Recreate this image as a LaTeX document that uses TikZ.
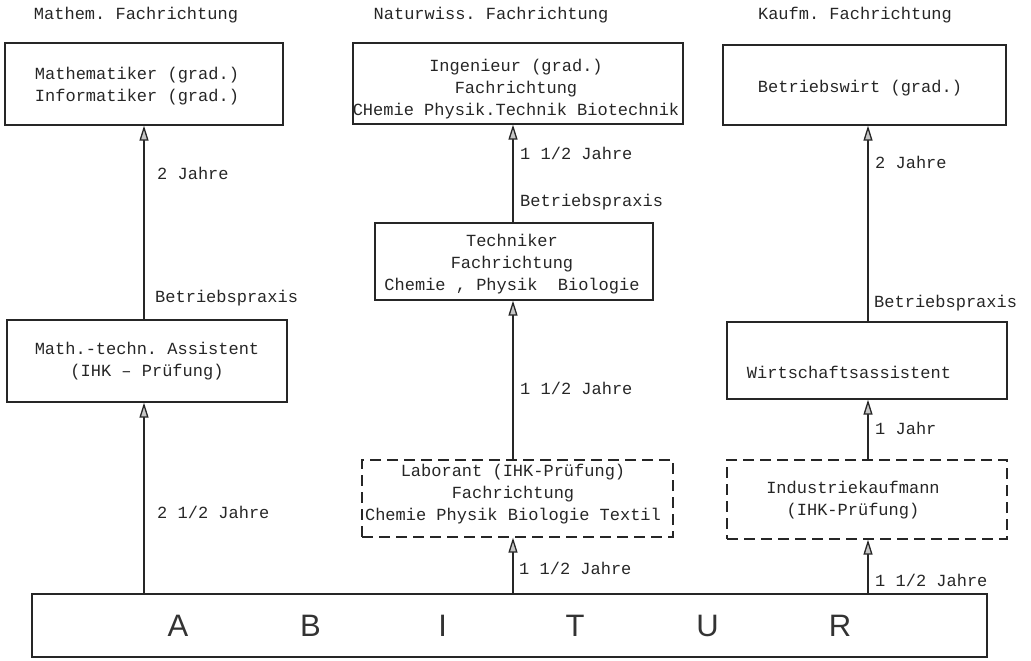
\documentclass[tikz,border=0pt]{standalone}
\usepackage{fontspec}
\setmainfont{Liberation Serif}
\setmonofont{Liberation Mono}
\newfontfamily\abifont{Liberation Sans}
\usetikzlibrary{arrows.meta}
\tikzset{
  box/.style={draw=black!85, line width=1.3pt, rectangle, inner sep=0pt},
  dbox/.style={box, dash pattern=on 11pt off 6pt},
  txt/.style={font=\ttfamily\fontsize{17}{22}\selectfont, text=black!85, inner sep=0pt, align=center},
  lbl/.style={txt, anchor=west},
  abl/.style={font=\abifont\fontsize{31}{31}\selectfont, text=black!80, inner sep=0pt},
  arr/.style={draw=black!85, line width=1.3pt, -{Triangle[width=9pt,length=15pt,fill=gray!45]}}
}
\begin{document}
\begin{tikzpicture}[x=1pt,y=-1pt]
\useasboundingbox (0,0) rectangle (1031,661);
% headers
\node[txt] (hm) at (136,15) {Mathem. Fachrichtung};
\node[txt] (hn) at (491,15) {Naturwiss. Fachrichtung};
\node[txt] (hk) at (855,15) {Kaufm. Fachrichtung};
% boxes
\node[box, minimum width=278pt, minimum height=82pt] (m1) at (144,84) {};
\node[box, minimum width=330pt, minimum height=81pt] (n1) at (518,83.5) {};
\node[box, minimum width=283pt, minimum height=80pt] (k1) at (864.5,85) {};
\node[box, minimum width=280pt, minimum height=82pt] (m2) at (147,361) {};
\node[box, minimum width=278pt, minimum height=77pt] (n2) at (514,261.5) {};
\node[box, minimum width=280pt, minimum height=77pt] (k2) at (867,360.5) {};
\node[dbox, minimum width=311pt, minimum height=77pt] (n3) at (517.5,498.5) {};
\node[dbox, minimum width=280pt, minimum height=79pt] (k3) at (867,499.5) {};
\node[box, minimum width=955pt, minimum height=63pt] (ab) at (509.5,625.5) {};
% box texts
\node[txt] (tm1) at (137,86) {Mathematiker (grad.)\\Informatiker (grad.)};
\node[txt] (tn1) at (516,89) {Ingenieur (grad.)\\Fachrichtung\\CHemie Physik.Technik Biotechnik};
\node[txt] (tk1) at (860,88) {Betriebswirt (grad.)};
\node[txt] (tm2) at (147,361) {Math.-techn. Assistent\\(IHK – Prüfung)};
\node[txt] (tn2) at (512,264) {Techniker\\Fachrichtung\\Chemie , Physik\ \ Biologie};
\node[txt] (tk2) at (849,372) {Wirtschaftsassistent};
\node[txt] (tn3) at (513,494) {Laborant (IHK-Prüfung)\\Fachrichtung\\Chemie Physik Biologie Textil};
\node[txt] (tk3) at (853,500) {Industriekaufmann\\(IHK-Prüfung)};
% ABITUR
\node[abl] (a1) at (178,626) {A};
\node[abl] (a2) at (310.4,626) {B};
\node[abl] (a3) at (442.8,626) {I};
\node[abl] (a4) at (575.2,626) {T};
\node[abl] (a5) at (707.6,626) {U};
\node[abl] (a6) at (840,626) {R};
% connectors
\coordinate (xm) at (144,0);
\coordinate (xn) at (513,0);
\coordinate (xk) at (868,0);
\draw[arr] (ab.north -| xm) -- (m2.south -| xm);
\draw[arr] (m2.north -| xm) -- (m1.south -| xm);
\draw[arr] (ab.north -| xn) -- (n3.south -| xn);
\draw[arr] (n3.north -| xn) -- (n2.south -| xn);
\draw[arr] (n2.north -| xn) -- (n1.south -| xn);
\draw[arr] (ab.north -| xk) -- (k3.south -| xk);
\draw[arr] (k3.north -| xk) -- (k2.south -| xk);
\draw[arr] (k2.north -| xk) -- (k1.south -| xk);
% labels
\node[lbl] (l1) at (157,173) {2 Jahre};
\node[lbl] (l2) at (155,298) {Betriebspraxis};
\node[lbl] (l3) at (157,512) {2 1/2 Jahre};
\node[lbl] (l4) at (520,153) {1 1/2 Jahre};
\node[lbl] (l5) at (520,202) {Betriebspraxis};
\node[lbl] (l6) at (520,388) {1 1/2 Jahre};
\node[lbl] (l7) at (519,568) {1 1/2 Jahre};
\node[lbl] (l8) at (875,162) {2 Jahre};
\node[lbl] (l9) at (874,303) {Betriebspraxis};
\node[lbl] (l10) at (875,428) {1 Jahr};
\node[lbl] (l11) at (875,580) {1 1/2 Jahre};
\end{tikzpicture}
\end{document}
